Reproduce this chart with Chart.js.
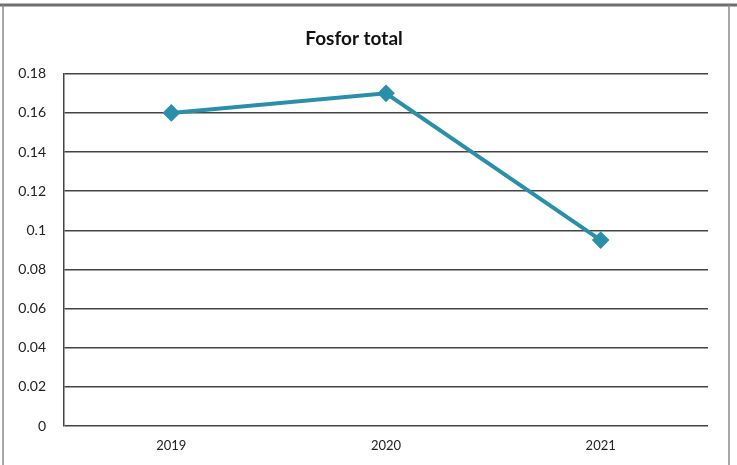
<!DOCTYPE html>
<html lang="sv">
<head>
  <meta charset="UTF-8" />
  <title>Fosfor total</title>
  <script src="https://cdn.jsdelivr.net/npm/chart.js"></script>
  <style>
    html, body { margin: 0; padding: 0; background: #fff; }
    #wrap { position: relative; width: 737px; height: 465px; }
  </style>
</head>
<body>
  <div id="wrap"><canvas id="grafico" width="737" height="465"></canvas></div>
  <script>
    // Datos
    const years = ['2019', '2020', '2021'];
    const fosfor = [0.16, 0.17, 0.095];
    const yTicks = [0, 0.02, 0.04, 0.06, 0.08, 0.1, 0.12, 0.14, 0.16, 0.18];

    const lineColor = '#2a8fa8';
    const gridColor = '#444';

    // Marco alrededor del gráfico
    const framePlugin = {
      id: 'frame',
      beforeDraw(chart) {
        const ctx = chart.ctx;
        ctx.save();
        ctx.fillStyle = '#fff';
        ctx.fillRect(0, 0, chart.width, chart.height);
        ctx.strokeStyle = '#6e6e6e';
        ctx.lineWidth = 3;
        ctx.beginPath();
        ctx.moveTo(0, 5);
        ctx.lineTo(737, 5);
        ctx.stroke();
        ctx.lineWidth = 1.5;
        ctx.strokeStyle = '#8a8a8a';
        ctx.beginPath();
        ctx.moveTo(3, 5);
        ctx.lineTo(3, 465);
        ctx.moveTo(729, 5);
        ctx.lineTo(729, 465);
        ctx.stroke();
        ctx.restore();
      }
    };

    new Chart(document.getElementById('grafico'), {
      type: 'line',
      data: {
        labels: years,
        datasets: [{
          label: 'Fosfor total',
          data: fosfor,
          borderColor: lineColor,
          backgroundColor: lineColor,
          borderWidth: 4,
          pointStyle: 'rectRot',
          pointRadius: 6,
          pointHoverRadius: 6,
          tension: 0
        }]
      },
      options: {
        responsive: false,
        animation: false,
        layout: { padding: { left: 0, right: 29, top: 0, bottom: 0 } },
        plugins: {
          legend: { display: false },
          tooltip: { enabled: false },
          title: {
            display: true,
            text: 'Fosfor total',
            color: '#111',
            font: { family: 'Lato', size: 19, weight: 'bold' },
            padding: { top: 27, bottom: 24 }
          }
        },
        scales: {
          x: {
            offset: true,
            grid: { display: false, drawTicks: false },
            border: { display: false },
            ticks: {
              color: '#222',
              font: { family: 'Lato', size: 13 },
              padding: 12
            },
            afterFit(scale) { scale.height = 39; }
          },
          y: {
            min: 0,
            max: 0.18,
            afterBuildTicks(scale) { scale.ticks = yTicks.map(v => ({ value: v })); },
            grid: { color: gridColor, lineWidth: 1.5, drawTicks: false },
            border: { display: true, color: gridColor, width: 1.5 },
            ticks: {
              color: '#222',
              font: { family: 'Lato', size: 14 },
              padding: 18,
              callback: v => String(Math.round(v * 100) / 100)
            },
            afterFit(scale) { scale.width = 64; }
          }
        }
      },
      plugins: [framePlugin]
    });
  </script>
</body>
</html>
